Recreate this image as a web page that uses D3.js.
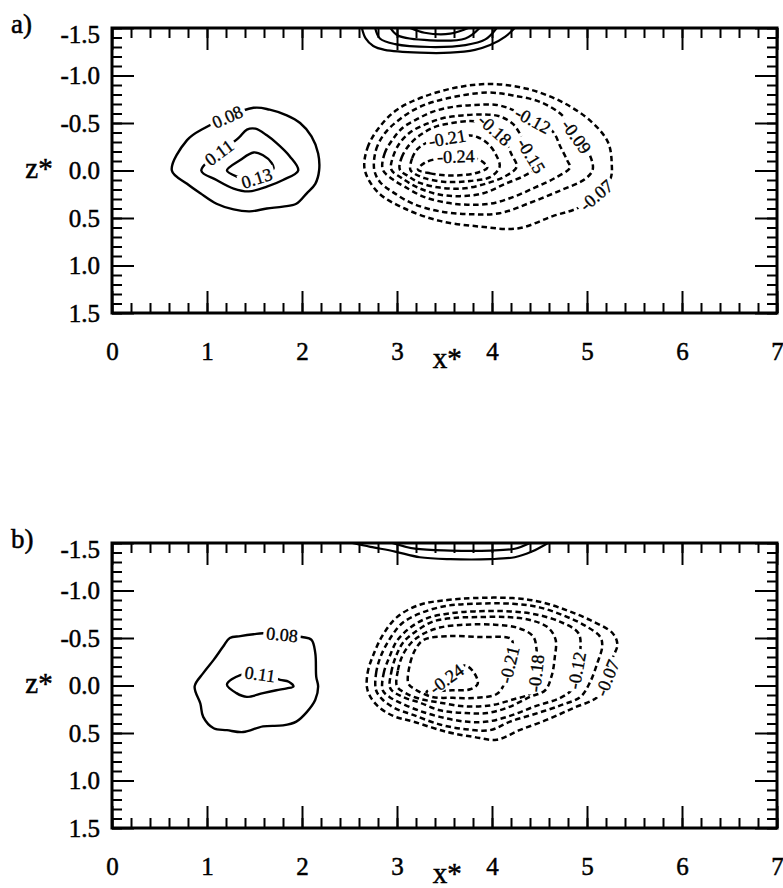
<!DOCTYPE html>
<html><head><meta charset="utf-8">
<script src="https://cdn.jsdelivr.net/npm/d3@7"></script>
<style>
html,body{margin:0;padding:0;background:#fff;}
svg{display:block;}
text{font-family:"Liberation Serif","Times New Roman",serif;fill:#000;}
</style></head><body>
<svg id="chart" width="783" height="888"></svg>
<script>
// ---- axis ticks ----
const xMajor = [0, 1, 2, 3, 4, 5, 6, 7];
const zMajor = [-1.5, -1.0, -0.5, 0.0, 0.5, 1.0, 1.5];
const panelTags = ["a)", "b)"];

// ---- panel a) contour traces, vertices as [x*, z*] ----
const aLevels = [0.08, 0.11, 0.13, -0.07, -0.09, -0.12, -0.15, -0.18, -0.21, -0.24];
const a_p08 = [[0.96,-0.44],[0.79,-0.32],[0.63,0.00],[0.79,0.14],[0.93,0.24],[1.10,0.35],[1.28,0.41],[1.45,0.43],[1.63,0.40],[1.80,0.38],[1.94,0.35],[2.05,0.24],[2.14,0.14],[2.18,0.00],[2.17,-0.18],[2.10,-0.36],[1.98,-0.50],[1.84,-0.58],[1.66,-0.64],[1.49,-0.66]];
const a_p11 = [[0.94,0.00],[1.10,0.10],[1.28,0.19],[1.44,0.22],[1.63,0.17],[1.80,0.10],[1.96,0.00],[1.87,-0.15],[1.73,-0.29],[1.63,-0.37],[1.51,-0.44],[1.42,-0.43],[1.33,-0.34]];
const a_p13 = [[1.68,-0.08],[1.59,-0.16],[1.49,-0.19],[1.35,-0.11],[1.21,0.00],[1.33,0.07],[1.42,0.10],[1.60,0.05],[1.70,-0.02]];
const a_n07 = [[2.66,-0.01],[2.69,-0.24],[2.81,-0.45],[3.00,-0.64],[3.29,-0.78],[3.66,-0.88],[4.01,-0.91],[4.37,-0.86],[4.74,-0.72],[5.05,-0.51],[5.22,-0.30],[5.26,-0.08],[5.24,0.10],[4.93,0.38],[4.64,0.48],[4.27,0.61],[3.87,0.59],[3.45,0.53],[3.08,0.40],[2.80,0.23]];
const a_n09 = [[2.76,-0.01],[2.78,-0.22],[2.87,-0.39],[3.03,-0.54],[3.24,-0.67],[3.53,-0.76],[3.95,-0.82],[4.22,-0.79],[4.51,-0.72],[4.74,-0.58],[4.88,-0.37],[5.03,-0.16],[5.06,-0.01],[4.98,0.09],[4.72,0.21],[4.40,0.34],[4.08,0.45],[3.77,0.46],[3.45,0.43],[3.17,0.35],[2.96,0.23],[2.82,0.12]];
const a_n12 = [[2.85,-0.01],[2.87,-0.18],[2.95,-0.32],[3.06,-0.45],[3.21,-0.54],[3.38,-0.62],[3.59,-0.67],[3.82,-0.69],[4.05,-0.69],[4.24,-0.63],[4.45,-0.52],[4.64,-0.41],[4.72,-0.25],[4.79,-0.11],[4.82,-0.03],[4.66,0.08],[4.45,0.18],[4.22,0.28],[3.98,0.35],[3.74,0.36],[3.53,0.34],[3.29,0.28],[3.08,0.17],[2.95,0.09]];
const a_n15 = [[2.94,-0.01],[2.96,-0.15],[3.03,-0.29],[3.15,-0.41],[3.31,-0.49],[3.48,-0.55],[3.69,-0.58],[3.91,-0.59],[4.08,-0.57],[4.22,-0.49],[4.32,-0.34],[4.40,-0.18],[4.47,-0.04],[4.35,0.05],[4.14,0.14],[3.91,0.24],[3.66,0.27],[3.43,0.25],[3.22,0.18],[3.05,0.08]];
const a_n18 = [[3.03,-0.01],[3.05,-0.14],[3.13,-0.27],[3.24,-0.37],[3.40,-0.46],[3.58,-0.50],[3.77,-0.52],[3.92,-0.50],[4.03,-0.43],[4.14,-0.30],[4.21,-0.16],[4.26,-0.04],[4.14,0.06],[3.93,0.14],[3.69,0.19],[3.45,0.18],[3.24,0.13],[3.12,0.06]];
const a_n21 = [[3.14,-0.01],[3.16,-0.13],[3.22,-0.23],[3.33,-0.30],[3.53,-0.34],[3.73,-0.37],[3.85,-0.35],[3.96,-0.28],[4.04,-0.17],[4.08,-0.04],[3.98,0.07],[3.77,0.11],[3.51,0.12],[3.29,0.08],[3.18,0.03]];
const a_n24 = [[3.22,-0.01],[3.35,0.03],[3.51,0.05],[3.66,0.05],[3.82,0.03],[3.95,-0.03],[3.89,-0.10],[3.77,-0.14],[3.62,-0.15],[3.45,-0.13],[3.29,-0.08]];
const aLines = [a_p08, a_p11, a_p13, a_n07, a_n09, a_n12, a_n15, a_n18, a_n21, a_n24];
const aLabelAt = [[1.22,-0.55],[1.14,-0.17],[1.52,0.07],[5.08,0.24],[4.89,-0.36],[4.43,-0.53],[4.42,-0.16],[4.03,-0.43],[3.53,-0.34],[3.62,-0.14]];
// cell cut by the upper boundary
const a_top1 = [[2.63,-1.5],[2.67,-1.39],[2.75,-1.31],[2.87,-1.27],[3.24,-1.24],[3.56,-1.24],[3.82,-1.27],[3.98,-1.32],[4.14,-1.41],[4.24,-1.5]];
const a_top2 = [[2.77,-1.5],[2.82,-1.39],[2.98,-1.33],[3.35,-1.30],[3.72,-1.32],[3.93,-1.38],[4.05,-1.5]];
const a_top3 = [[2.93,-1.5],[3.01,-1.42],[3.35,-1.37],[3.72,-1.39],[3.87,-1.5]];
const a_top4 = [[3.14,-1.5],[3.29,-1.45],[3.56,-1.44],[3.75,-1.5]];
const aTop = [a_top1, a_top2, a_top3, a_top4];

// ---- panel b) contour traces ----
const bLevels = [0.08, 0.11, -0.07, -0.09, -0.12, -0.15, -0.18, -0.21, -0.24];
const b_p08 = [[2.00,-0.51],[2.10,-0.48],[2.14,-0.34],[2.15,-0.09],[2.17,0.01],[2.14,0.15],[2.05,0.28],[1.94,0.38],[1.80,0.42],[1.59,0.43],[1.38,0.49],[1.21,0.47],[1.07,0.45],[0.96,0.33],[0.93,0.19],[0.87,0.01],[0.96,-0.13],[1.07,-0.27],[1.17,-0.41],[1.24,-0.50],[1.35,-0.52],[1.49,-0.54],[1.59,-0.55]];
const b_p11 = [[1.35,-0.11],[1.21,-0.01],[1.31,0.08],[1.42,0.12],[1.59,0.08],[1.73,0.05],[1.84,0.03],[1.91,0.01],[1.86,-0.04],[1.77,-0.06],[1.56,-0.12]];
const b_n07 = [[2.69,0.05],[2.69,-0.13],[2.75,-0.32],[2.85,-0.53],[3.00,-0.72],[3.24,-0.85],[3.53,-0.90],[3.80,-0.92],[4.22,-0.92],[4.51,-0.88],[4.79,-0.79],[5.03,-0.69],[5.27,-0.55],[5.32,-0.43],[5.27,-0.29],[5.24,-0.16],[5.19,-0.03],[5.11,0.12],[4.85,0.24],[4.58,0.36],[4.29,0.47],[4.05,0.57],[3.80,0.54],[3.53,0.49],[3.17,0.38],[2.96,0.32],[2.79,0.21]];
const b_n09 = [[2.78,0.05],[2.78,-0.13],[2.83,-0.31],[2.93,-0.50],[3.06,-0.66],[3.27,-0.77],[3.53,-0.84],[3.80,-0.86],[4.22,-0.86],[4.51,-0.82],[4.77,-0.73],[4.98,-0.63],[5.14,-0.51],[5.16,-0.41],[5.11,-0.24],[5.03,-0.03],[4.93,0.12],[4.72,0.21],[4.45,0.30],[4.19,0.38],[3.98,0.47],[3.72,0.46],[3.45,0.41],[3.17,0.31],[2.98,0.24],[2.85,0.15]];
const b_n12 = [[2.85,0.05],[2.86,-0.13],[2.92,-0.30],[3.00,-0.47],[3.14,-0.61],[3.32,-0.71],[3.56,-0.76],[3.82,-0.78],[4.19,-0.78],[4.45,-0.75],[4.72,-0.67],[4.91,-0.55],[4.93,-0.37],[4.89,-0.16],[4.85,0.03],[4.72,0.13],[4.45,0.22],[4.19,0.32],[3.95,0.38],[3.72,0.38],[3.45,0.33],[3.22,0.26],[3.03,0.18],[2.92,0.12]];
const b_n15 = [[2.93,0.03],[2.94,-0.14],[2.99,-0.31],[3.07,-0.46],[3.20,-0.57],[3.37,-0.67],[3.58,-0.71],[3.85,-0.72],[4.17,-0.72],[4.40,-0.69],[4.59,-0.61],[4.67,-0.48],[4.66,-0.29],[4.63,-0.11],[4.56,0.05],[4.40,0.12],[4.17,0.23],[3.95,0.29],[3.72,0.29],[3.45,0.26],[3.24,0.18],[3.06,0.12]];
const b_n18 = [[3.00,0.01],[3.01,-0.16],[3.06,-0.32],[3.15,-0.45],[3.27,-0.54],[3.45,-0.61],[3.72,-0.64],[4.03,-0.64],[4.26,-0.61],[4.43,-0.52],[4.47,-0.37],[4.46,-0.11],[4.42,0.07],[4.21,0.15],[3.98,0.21],[3.72,0.22],[3.45,0.18],[3.24,0.14],[3.09,0.08]];
const b_n21 = [[3.12,-0.02],[3.14,-0.24],[3.20,-0.39],[3.28,-0.48],[3.53,-0.52],[3.87,-0.51],[4.20,-0.49],[4.22,-0.39],[4.18,-0.22],[4.13,-0.02],[4.05,0.09],[3.84,0.13],[3.59,0.13],[3.37,0.12],[3.19,0.04]];
const b_n24 = [[3.31,0.07],[3.52,-0.07],[3.71,-0.21],[3.80,-0.15],[3.85,-0.02],[3.77,0.04],[3.58,0.05],[3.41,0.06]];
const bLines = [b_p08, b_p11, b_n07, b_n09, b_n12, b_n15, b_n18, b_n21, b_n24];
const bLabelAt = [[1.79,-0.53],[1.56,-0.12],[5.21,-0.08],null,[4.89,-0.16],null,[4.46,-0.13],[4.18,-0.22],[3.52,-0.07]];
const b_top1 = [[2.53,-1.5],[2.72,-1.46],[2.98,-1.41],[3.24,-1.35],[3.56,-1.33],[3.98,-1.33],[4.24,-1.35],[4.42,-1.41],[4.59,-1.5]];
const b_top2 = [[2.95,-1.5],[3.19,-1.44],[3.56,-1.42],[3.98,-1.42],[4.24,-1.44],[4.40,-1.5]];
const bTop = [b_top1, b_top2];

// ---- layout ----
const W = 783, H = 888;
const svg = d3.select("#chart");
const defs = svg.append("defs");
const x = d3.scaleLinear().domain([0, 7]).range([112, 777]);
const panelTops = [28, 543];
const panelH = 285;
const fmtLevel = v => v.toFixed(2);
const fmtZ = v => v.toFixed(1);
let maskCount = 0;

// print-like heavier glyphs
const inked = (sel, w) => sel.attr("stroke", "#000").attr("stroke-width", w).attr("paint-order", "stroke");

function drawPanel(pi, levels, lines, labelAt, topLines) {
  const top = panelTops[pi], bottom = top + panelH;
  const y = d3.scaleLinear().domain([-1.5, 1.5]).range([top, bottom]);
  const g = svg.append("g");

  const clipId = "clip" + pi;
  defs.append("clipPath").attr("id", clipId).append("rect")
    .attr("x", x(0)).attr("y", top).attr("width", x(7) - x(0)).attr("height", panelH);
  const plot = g.append("g").attr("clip-path", `url(#${clipId})`);

  const closedLine = d3.line().x(d => x(d[0])).y(d => y(d[1])).curve(d3.curveCatmullRomClosed.alpha(0.5));
  const openLine = d3.line().x(d => x(d[0])).y(d => y(d[1])).curve(d3.curveCatmullRom.alpha(0.5));

  // open traces meeting the upper boundary
  topLines.forEach(pts => {
    plot.append("path").attr("d", openLine(pts)).attr("fill", "none")
      .attr("stroke", "#000").attr("stroke-width", 2.2);
  });

  lines.forEach((pts, i) => {
    const level = levels[i];
    const path = plot.append("path").attr("d", closedLine(pts)).attr("fill", "none")
      .attr("stroke", "#000").attr("stroke-width", level < 0 ? 2.5 : 2.4)
      .attr("stroke-linejoin", "round");
    if (level < 0) path.attr("stroke-dasharray", "5.5,3.5");
    const at = labelAt[i];
    if (!at) return;
    const node = path.node();
    const L = node.getTotalLength();
    const tx = x(at[0]), ty = y(at[1]);
    let best = 0, bd = Infinity;
    for (let s = 0; s <= L; s += 0.5) {
      const p = node.getPointAtLength(s);
      const d = (p.x - tx) ** 2 + (p.y - ty) ** 2;
      if (d < bd) { bd = d; best = s; }
    }
    const p = node.getPointAtLength(best);
    const p1 = node.getPointAtLength((best - 5 + L) % L);
    const p2 = node.getPointAtLength((best + 5) % L);
    let ang = Math.atan2(p2.y - p1.y, p2.x - p1.x) * 180 / Math.PI;
    if (ang > 90) ang -= 180;
    if (ang <= -90) ang += 180;
    const tf = `translate(${p.x},${p.y}) rotate(${ang})`;
    const t = g.append("text").attr("transform", tf)
      .attr("text-anchor", "middle").attr("dy", "0.35em")
      .attr("font-size", 18).text(fmtLevel(level)).call(inked, 0.35);
    const w = t.node().getComputedTextLength() + 6;
    const id = "m" + (maskCount++);
    const m = defs.append("mask").attr("id", id).attr("maskUnits", "userSpaceOnUse")
      .attr("x", 0).attr("y", 0).attr("width", W).attr("height", H);
    m.append("rect").attr("width", W).attr("height", H).attr("fill", "#fff");
    m.append("rect").attr("x", -w / 2).attr("y", -8).attr("width", w).attr("height", 16)
      .attr("transform", tf).attr("fill", "#000");
    path.attr("mask", `url(#${id})`);
  });

  // ticks pointing inward on all four sides
  const xMinor = x.ticks(35), zMinor = y.ticks(30);
  const styleAxis = sel => {
    sel.select(".domain").remove();
    sel.selectAll(".tick line").attr("stroke", "#000").attr("stroke-width", 2);
    sel.attr("font-family", null).attr("font-size", 25);
  };
  g.append("g").attr("transform", `translate(0,${bottom})`)
    .call(d3.axisBottom(x).tickValues(xMinor).tickSize(-10).tickFormat("")).call(styleAxis);
  g.append("g").attr("transform", `translate(0,${top})`)
    .call(d3.axisTop(x).tickValues(xMinor).tickSize(-10).tickFormat("")).call(styleAxis);
  g.append("g").attr("transform", `translate(0,${top})`)
    .call(d3.axisTop(x).tickValues(xMajor).tickSize(-22).tickFormat("")).call(styleAxis);
  g.append("g").attr("transform", `translate(${x(0)},0)`)
    .call(d3.axisLeft(y).tickValues(zMinor).tickSize(-10).tickFormat("")).call(styleAxis);
  g.append("g").attr("transform", `translate(${x(7)},0)`)
    .call(d3.axisRight(y).tickValues(zMinor).tickSize(-10).tickFormat("")).call(styleAxis);
  g.append("g").attr("transform", `translate(${x(7)},0)`)
    .call(d3.axisRight(y).tickValues(zMajor).tickSize(-22).tickFormat("")).call(styleAxis);

  const xb = g.append("g").attr("transform", `translate(0,${bottom})`)
    .call(d3.axisBottom(x).tickValues(xMajor).tickSize(-22).tickPadding(29).tickFormat(d3.format("d")))
    .call(styleAxis);
  xb.selectAll(".tick text").attr("fill", "#000").call(inked, 0.5);

  const yl = g.append("g").attr("transform", `translate(${x(0)},0)`)
    .call(d3.axisLeft(y).tickValues(zMajor).tickSize(-22).tickPadding(12).tickFormat(fmtZ))
    .call(styleAxis);
  yl.selectAll(".tick text").attr("fill", "#000").attr("dy", "0.33em").call(inked, 0.5)
    .filter(d => d === -1.5).attr("dy", "0.58em");

  // frame
  g.append("rect").attr("x", x(0)).attr("y", top).attr("width", x(7) - x(0)).attr("height", panelH)
    .attr("fill", "none").attr("stroke", "#000").attr("stroke-width", 3);

  // titles
  g.append("text").attr("x", 11).attr("y", top + 5).attr("font-size", 27).text(panelTags[pi]).call(inked, 0.5);
  g.append("text").attr("x", 39).attr("y", y(0) + 7).attr("text-anchor", "middle")
    .attr("font-size", 29).text("z*").call(inked, 0.5);
  g.append("text").attr("x", x(3.53)).attr("y", bottom + 55).attr("text-anchor", "middle")
    .attr("font-size", 29).text("x*").call(inked, 0.5);
}

drawPanel(0, aLevels, aLines, aLabelAt, aTop);
drawPanel(1, bLevels, bLines, bLabelAt, bTop);
</script>
</body></html>
